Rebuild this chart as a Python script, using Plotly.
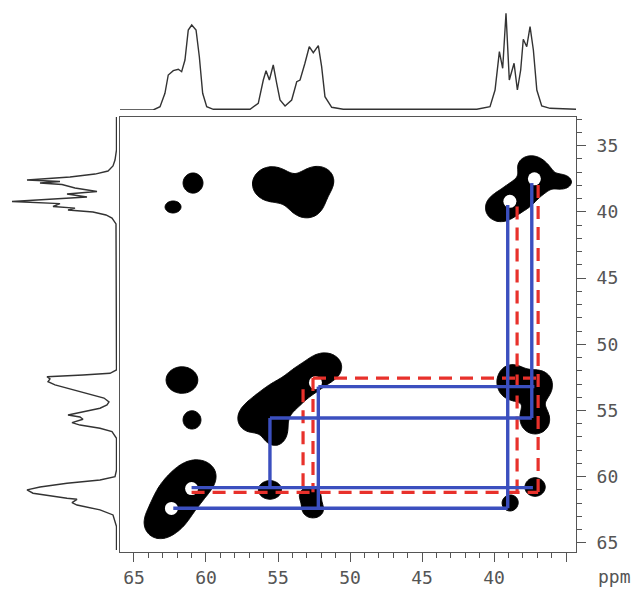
import numpy as np
import plotly.graph_objects as go

# ---------------- data (ppm) ----------------
# top 1D projection trace: ppm, intensity
top_ppm = [65.97, 63.66, 63.19, 62.85, 62.62, 62.27, 61.92, 61.69, 61.46, 61.23, 60.99, 60.69, 60.46,
           60.23, 59.95, 59.49, 56.94, 56.37, 56.02, 55.83, 55.60, 55.33, 55.09, 54.86, 54.51, 54.05,
           53.70, 53.47, 53.13, 52.83, 52.55, 52.20, 51.97, 51.74, 51.27, 50.47, 41.2, 40.28, 39.93,
           39.63, 39.40, 39.17, 38.94, 38.61, 38.38, 38.15, 37.97, 37.73, 37.50, 37.27, 37.03, 36.69,
           36.11, 34.26]
top_int = [0, 0, 3.3, 16.7, 35, 39.3, 40.7, 38.3, 50, 80, 85, 80, 53,
           16.7, 3.3, 0.7, 0.7, 6.7, 30, 39.3, 30, 45, 26.7, 10, 4, 10,
           28.3, 30, 46.7, 63.3, 57.3, 64.3, 43.3, 13.3, 2.7, 0.7, 0.7, 3.3, 20,
           58.3, 41.7, 96.7, 30, 46.7, 20, 40, 70.7, 63.3, 83.3, 60, 20, 4,
           1.7, 0.7]

# left 1D projection trace: ppm, intensity
left_ppm = [32.83, 35.32, 36.08, 36.53, 36.91, 37.14, 37.36, 37.59, 37.70, 37.82, 37.93, 38.19, 38.46,
            38.65, 38.87, 39.21, 39.37, 39.59, 39.71, 39.86, 40.01, 40.23, 40.46, 40.91,
            51.94, 52.19, 52.32, 52.45, 52.62, 52.82, 53.07, 53.38, 53.70, 54.06, 54.36, 54.58, 54.83,
            55.09, 55.34, 55.49, 55.66, 55.92, 56.10, 56.34, 56.60, 57.10,
            59.49, 60.0, 60.25, 60.50, 60.78, 61.0, 61.25, 61.63, 61.71, 61.96, 62.14, 62.51, 62.89,
            63.77, 65.54]
left_int = [0.5, 0.5, 2, 4, 9, 22, 47, 90, 57, 77, 55, 42, 20,
            50, 30, 105, 57, 64, 42, 49, 24, 11, 5, 1,
            0.5, 7, 34, 70, 67, 69, 62, 47, 30, 13, 8, 10, 17,
            35, 49, 37, 34, 45, 37, 17, 5, 0.5,
            0.5, 2, 17, 50, 77, 90, 84, 50, 40, 45, 40, 17, 4,
            0.5, 0.5]

# 2D cross / diagonal peaks: centre (ppm), half-widths (ppm)
pk_x = [60.90, 62.29, 55.42, 52.22, 52.99, 39.58, 38.19, 36.81, 35.21, 37.5,
        38.75, 36.81, 37.15, 61.67, 60.97, 51.74, 53.13, 54.51, 55.9, 55.21, 56.94,
        55.56, 52.78, 52.57, 38.89, 37.15, 60.56, 61.67, 62.64, 63.33]
pk_y = [37.82, 39.63, 37.89, 37.59, 39.33, 39.71, 38.72, 37.44, 37.74, 36.46,
        52.85, 53.07, 55.72, 52.70, 55.72, 51.71, 52.70, 53.83, 54.97, 56.62, 55.72,
        61.0, 61.38, 62.51, 61.99, 60.78, 59.87, 61.15, 62.89, 63.65]
pk_wx = [0.69, 0.55, 1.35, 1.05, 1.1, 1.0, 1.0, 1.0, 0.55, 0.7,
         1.05, 0.85, 1.0, 1.1, 0.62, 1.15, 1.0, 1.2, 1.2, 0.8, 0.7,
         0.8, 0.7, 0.7, 0.55, 0.7, 1.15, 1.35, 1.2, 0.7]
pk_wy = [0.76, 0.45, 1.3, 1.0, 1.1, 1.0, 1.0, 1.0, 0.45, 0.6,
         1.3, 1.0, 1.05, 1.0, 0.68, 1.05, 0.9, 1.05, 1.05, 1.0, 0.75,
         0.7, 0.6, 0.6, 0.6, 0.7, 1.05, 1.3, 1.3, 0.75]

# connectivity paths (segments x0, y0, x1, y1 in ppm)
blue_seg = [
    (52.2, 53.2, 37.2, 53.2),
    (55.56, 55.57, 37.38, 55.57),
    (61.0, 60.83, 37.3, 60.83),
    (62.27, 62.39, 39.05, 62.39),
    (55.56, 55.57, 55.56, 60.83),
    (52.2, 53.2, 52.2, 62.39),
    (39.05, 39.48, 39.05, 62.39),
    (37.38, 37.82, 37.38, 55.57),
]
red_seg = [
    (52.57, 52.55, 36.94, 52.55),
    (61.0, 61.18, 36.94, 61.18),
    (52.57, 52.55, 52.57, 61.18),
    (53.26, 53.4, 53.26, 61.18),
    (38.40, 39.6, 38.40, 61.18),
    (36.94, 37.97, 36.94, 61.18),
]
# diagonal starting points of the paths (blank spots in the contour map)
start_x = [52.4, 38.9, 37.2, 61.0, 62.4]
start_y = [52.9, 39.2, 37.5, 60.9, 62.4]

x_ticks = [65, 60, 55, 50, 45, 40, 35]
x_ticktext = ["65", "60", "55", "50", "45", "40", ""]
y_ticks = [35, 40, 45, 50, 55, 60, 65]

X_RANGE = [65.97, 34.31]
Y_RANGE = [65.69, 32.83]

# ---------------- figure ----------------
W, H = 643, 592
fig = go.Figure()

# 2D contour map
gx = np.arange(34.2, 66.1, 0.08)
gy = np.arange(32.7, 65.8, 0.08)
GX, GY = np.meshgrid(gx, gy)
Z = np.zeros_like(GX)
k = 1.1774
for x0, y0, wx, wy in zip(pk_x, pk_y, pk_wx, pk_wy):
    sx, sy = wx / k, wy / k
    Z += np.exp(-0.5 * (((GX - x0) / sx) ** 2 + ((GY - y0) / sy) ** 2))
Z = np.round(Z, 3)

fig.add_trace(go.Contour(
    x=gx, y=gy, z=Z, xaxis="x", yaxis="y",
    contours=dict(type="constraint", operation="<", value=0.5),
    fillcolor="black", line=dict(color="black", width=1),
    showscale=False, hoverinfo="skip"))

# blank spots at path origins
fig.add_trace(go.Scatter(x=start_x, y=start_y, mode="markers", xaxis="x", yaxis="y",
                         marker=dict(color="white", size=13, line=dict(width=0)),
                         hoverinfo="skip"))

def seg_xy(segs):
    xs, ys = [], []
    for x0, y0, x1, y1 in segs:
        xs += [x0, x1, None]
        ys += [y0, y1, None]
    return xs, ys

rx, ry = seg_xy(red_seg)
fig.add_trace(go.Scatter(x=rx, y=ry, mode="lines", xaxis="x", yaxis="y",
                         line=dict(color="#e8312b", width=3.2, dash="13px,8px"),
                         hoverinfo="skip"))
bx, by = seg_xy(blue_seg)
fig.add_trace(go.Scatter(x=bx, y=by, mode="lines", xaxis="x", yaxis="y",
                         line=dict(color="#3b4fbf", width=3.4),
                         hoverinfo="skip"))

# top projection
fig.add_trace(go.Scatter(x=top_ppm, y=top_int, mode="lines", xaxis="x2", yaxis="y2",
                         line=dict(color="#333333", width=1.4), hoverinfo="skip"))
# left projection
fig.add_trace(go.Scatter(x=left_int, y=left_ppm, mode="lines", xaxis="x3", yaxis="y3",
                         line=dict(color="#333333", width=1.4), hoverinfo="skip"))

x0p, x1p = 120 / W, 576 / W
y0p, y1p = (H - 552) / H, (H - 117) / H
tickfont = dict(family="DejaVu Sans Mono", size=18, color="#555555")

fig.update_layout(
    width=W, height=H,
    margin=dict(l=0, r=0, t=0, b=0),
    paper_bgcolor="white", plot_bgcolor="white",
    showlegend=False,
    xaxis=dict(domain=[x0p, x1p], range=X_RANGE, showgrid=False, zeroline=False,
               showline=True, linecolor="#555555", linewidth=1, mirror=True,
               ticks="outside", ticklen=9, tickcolor="#555555", tickwidth=1,
               tickvals=x_ticks, ticktext=x_ticktext, tickfont=tickfont,
               minor=dict(dtick=1, ticks="outside", ticklen=5, tickcolor="#555555", showgrid=False),
               anchor="y"),
    yaxis=dict(domain=[y0p, y1p], range=Y_RANGE, showgrid=False, zeroline=False,
               showline=True, linecolor="#555555", linewidth=1, mirror=True,
               side="right", ticks="outside", ticklen=9, tickcolor="#555555", tickwidth=1,
               tickvals=y_ticks, tickfont=tickfont, ticklabelstandoff=7,
               minor=dict(dtick=1, ticks="outside", ticklen=5, tickcolor="#555555", showgrid=False),
               anchor="x"),
    xaxis2=dict(domain=[x0p, x1p], range=X_RANGE, visible=False, anchor="y2"),
    yaxis2=dict(domain=[(H - 110) / H, 1], range=[0, 110], visible=False, anchor="x2"),
    xaxis3=dict(domain=[0, 117 / W], range=[117, 0], visible=False, anchor="y3"),
    yaxis3=dict(domain=[y0p, y1p], range=Y_RANGE, visible=False, anchor="x3"),
    annotations=[dict(text="ppm", x=614 / W, y=(H - 576) / H, xref="paper", yref="paper",
                      showarrow=False, font=tickfont, xanchor="center", yanchor="middle")],
)

fig.write_html("out.html")
